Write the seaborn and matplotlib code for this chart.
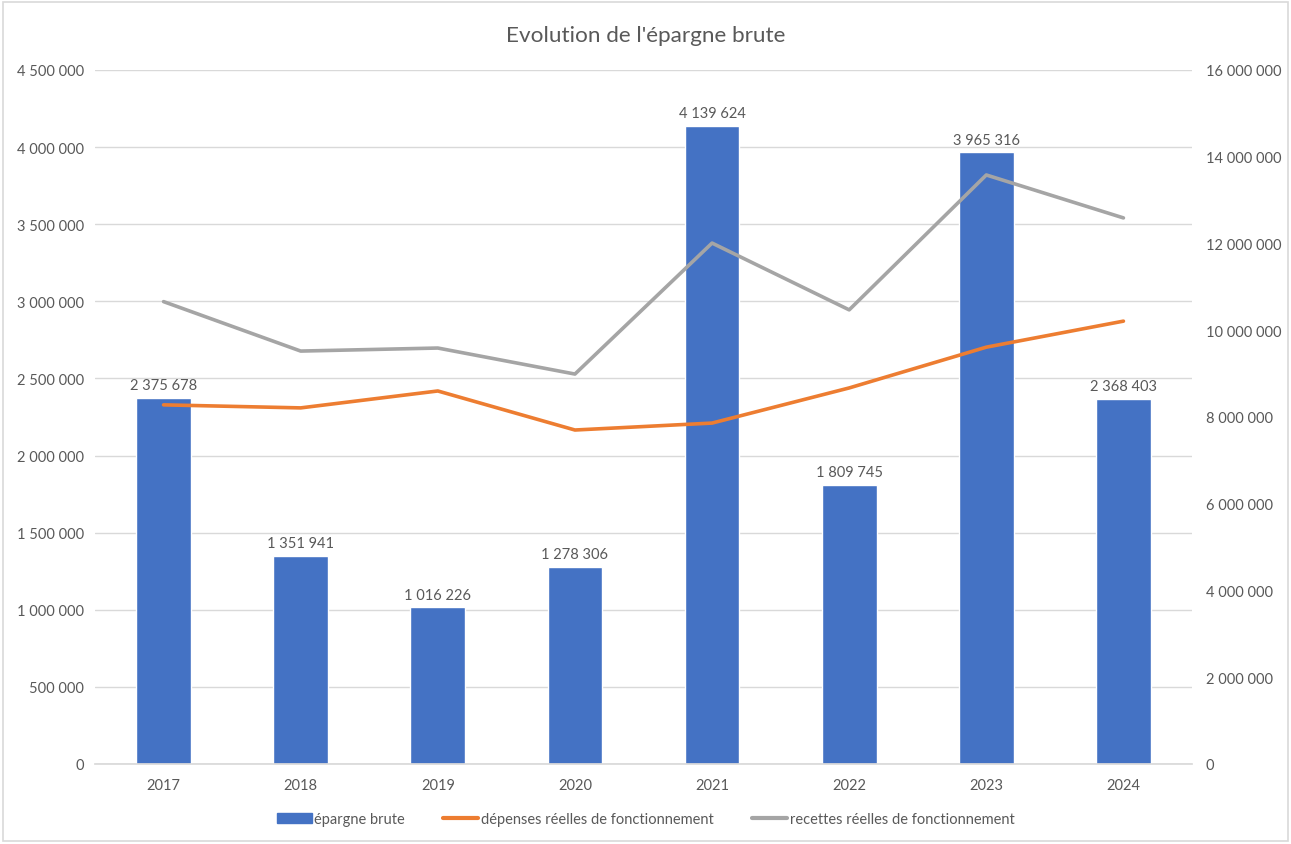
import matplotlib
matplotlib.use("Agg")
import matplotlib.pyplot as plt
from matplotlib.lines import Line2D
from matplotlib.patches import Patch
from matplotlib.ticker import FuncFormatter
import numpy as np
import pandas as pd
import seaborn as sns

years = ["2017", "2018", "2019", "2020", "2021", "2022", "2023", "2024"]
epargne = [2375678, 1351941, 1016226, 1278306, 4139624, 1809745, 3965316, 2368403]
depenses = [8280000, 8210000, 8600000, 7700000, 7860000, 8670000, 9610000, 10210000]
recettes = [10660000, 9520000, 9590000, 8990000, 12010000, 10470000, 13580000, 12590000]

blue = "#4472c4"
orange = "#ed7d31"
grey = "#a5a5a5"
txt = "#595959"

sns.set_theme(style="white")
plt.rcParams["font.family"] = ["Lato", "DejaVu Sans"]

df = pd.DataFrame({"year": years, "epargne": epargne,
                   "depenses": depenses, "recettes": recettes})
df["pos"] = np.arange(len(df))


def fmt(v, _=None):
    return f"{int(round(v)):,}".replace(",", " ")


fig = plt.figure(figsize=(12.91, 8.45), dpi=100)
ax = fig.add_axes([95 / 1291, 80 / 845, 1097 / 1291, 694 / 845])

sns.barplot(data=df, x="year", y="epargne", color=blue, width=0.4,
            saturation=1, ax=ax, zorder=2)
ax.set_ylim(0, 4500000)
ax.set_yticks(np.arange(0, 4500001, 500000))
ax.yaxis.set_major_formatter(FuncFormatter(fmt))
ax.grid(axis="y", color="#d9d9d9", linewidth=1)
ax.set_axisbelow(True)
ax.bar_label(ax.containers[0], labels=[fmt(v) for v in epargne],
             padding=4, fontsize=10.5, color=txt)
ax.set_xlabel("")
ax.set_ylabel("")
ax.set_xlim(-0.5, len(years) - 0.5)

ax2 = ax.twinx()
sns.lineplot(data=df, x="pos", y="recettes", color=grey, linewidth=2.6, ax=ax2)
sns.lineplot(data=df, x="pos", y="depenses", color=orange, linewidth=2.6, ax=ax2)
ax2.set_ylim(0, 16000000)
ax2.set_yticks(np.arange(0, 16000001, 2000000))
ax2.yaxis.set_major_formatter(FuncFormatter(fmt))
ax2.set_xlabel("")
ax2.set_ylabel("")
ax2.set_xlim(-0.5, len(years) - 0.5)

for a in (ax, ax2):
    for s in a.spines.values():
        s.set_visible(False)
    a.tick_params(length=0, labelsize=10.5, labelcolor=txt)
ax.spines["bottom"].set_visible(True)
ax.spines["bottom"].set_color("#d9d9d9")
ax.tick_params(axis="x", pad=10)
ax.tick_params(axis="y", pad=8)
ax2.tick_params(axis="y", pad=10)

fig.text(0.5, 1 - 36 / 845, "Evolution de l'épargne brute", ha="center",
         va="center", fontsize=16.2, color=txt)

handles = [Patch(color=blue),
           Line2D([], [], color=orange, linewidth=3),
           Line2D([], [], color=grey, linewidth=3)]
labels = ["épargne brute", "dépenses réelles de fonctionnement",
          "recettes réelles de fonctionnement"]
fig.legend(handles, labels, loc="center", bbox_to_anchor=(0.5, 1 - 820 / 845),
           ncol=3, frameon=False, fontsize=10.5, labelcolor=txt,
           handlelength=2.4, handletextpad=0.2, columnspacing=2.6)

fig.patches.append(plt.Rectangle((3 / 1291, 3 / 845), 1 - 6 / 1291, 1 - 6 / 845,
                                 transform=fig.transFigure, fill=False,
                                 edgecolor="#d9d9d9", linewidth=1.2))

fig.savefig("out.png", dpi=100)
